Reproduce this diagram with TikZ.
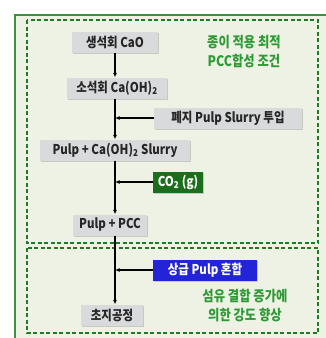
\documentclass[tikz,border=0pt]{standalone}
\usepackage{fontspec}
\setmainfont{Noto Sans CJK KR}[FakeStretch=0.85]
\usepackage{tikz}
\usetikzlibrary{arrows.meta, shadows}
\definecolor{paper}{HTML}{EEF2E5}
\definecolor{frame}{HTML}{3E8E3E}
\definecolor{zonegreen}{HTML}{1E7A23}
\definecolor{boxgray}{HTML}{D9DADB}
\definecolor{gasgreen}{HTML}{1C6E1C}
\definecolor{pulpblue}{HTML}{2323D8}
\definecolor{notegreen}{HTML}{2E9A35}

\tikzset{
  stepbox/.style={fill=boxgray, inner sep=0pt, minimum height=21pt,
    font=\bfseries\fontsize{13.5}{15}\selectfont, text=black!85,
    drop shadow={shadow xshift=1.2pt, shadow yshift=-1.2pt, opacity=0.35}},
  feedbox/.style={stepbox, text=white},
  notetext/.style={align=center, text=notegreen,
    font=\bfseries\fontsize{14.5}{19}\selectfont},
  zone/.style={zonegreen, line width=1.3pt, dash pattern=on 4pt off 2.5pt},
  flow/.style={line width=1.2pt, -{Latex[length=4.5pt, width=4pt]}}
}

\begin{document}
\begin{tikzpicture}[x=1pt, y=-1pt]
  \useasboundingbox (0,0) rectangle (325,338);
  \fill[white] (0,0) rectangle (325,338);
  % outer panel
  \fill[paper] (15,15) rectangle (340,350);
  \draw[frame, line width=1.6pt] (15,350) -- (15,15) -- (340,15);
  % dashed zones
  \draw[zone] (27,20) rectangle (318,243);
  \draw[zone] (27,248) rectangle (318,333);

  % main chain
  \node[stepbox, minimum width=86pt] (cao) at (115,42) {생석회 CaO};
  \node[stepbox, minimum width=100pt] (caoh) at (117,88) {소석회 Ca(OH)\textsubscript{2}};
  \node[stepbox, minimum width=148pt] (waste) at (228,118) {폐지 Pulp Slurry 투입};
  \node[stepbox, minimum width=150pt] (slurry) at (115,150) {Pulp + Ca(OH)\textsubscript{2} Slurry};
  \node[feedbox, fill=gasgreen, minimum width=50pt] (co2) at (178,182) {CO\textsubscript{2} (g)};
  \node[stepbox, minimum width=74pt] (pcc) at (110,225) {Pulp + PCC};
  \node[feedbox, fill=pulpblue, minimum width=104pt] (high) at (205,270) {상급 Pulp 혼합};
  \node[stepbox, minimum width=62pt] (making) at (112,315) {초지공정};

  % notes
  \node[notetext] (synth) at (244,52) {종이 적용 최적\\PCC합성 조건};
  \node[notetext] (bond) at (245,306) {섬유 결합 증가에\\의한 강도 향상};

  % joints on the spine
  \coordinate (j1) at (115,118);
  \coordinate (j2) at (115,182);
  \coordinate (j3) at (115,270);

  \draw[flow] (cao.south -| j1) -- (caoh.north -| j1);
  \draw[flow] (caoh.south -| j1) -- (slurry.north -| j1);
  \draw[flow] (slurry.south -| j2) -- (pcc.north -| j2);
  \draw[flow] (pcc.south -| j3) -- (making.north -| j3);
  \draw[flow] (waste.west) -- (j1);
  \draw[flow] (co2.west) -- (j2);
  \draw[flow] (high.west) -- (j3);
\end{tikzpicture}
\end{document}
